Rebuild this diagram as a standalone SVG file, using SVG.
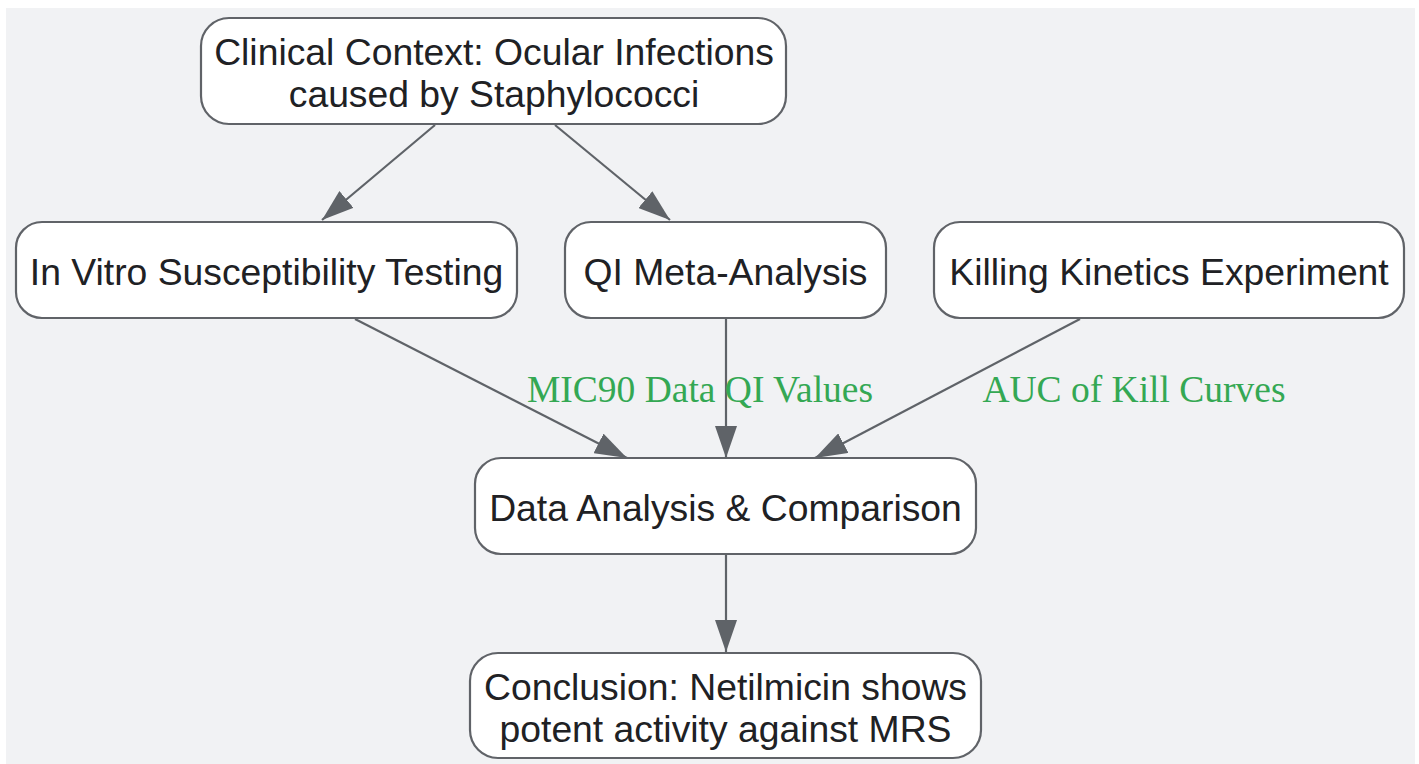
<svg xmlns="http://www.w3.org/2000/svg" width="1419" height="764" viewBox="0 0 1419 764">
<style>
.node rect{fill:#ffffff;stroke:#606368;stroke-width:2.2}
.node text{font-family:"Liberation Sans",Arial,sans-serif;font-size:37.3px;fill:#202124;text-anchor:middle}
.edge{stroke:#5f6368;stroke-width:2.2;fill:none;marker-end:url(#arr)}
.lbl{font-family:"Liberation Serif","Times New Roman",serif;font-size:37.5px;fill:#34a853;text-anchor:middle}
</style>
<defs>
<marker id="arr" viewBox="0 0 32 22" refX="32" refY="11" markerWidth="32" markerHeight="22" markerUnits="userSpaceOnUse" orient="auto">
<path d="M0,0 L32,11 L0,22 z" fill="#5f6368"/>
</marker>
</defs>
<rect x="6" y="8" width="1409" height="760" fill="#f1f2f4"/>
<g id="connectors">
<line class="edge" x1="435" y1="125" x2="322" y2="220"/>
<line class="edge" x1="555" y1="125" x2="670" y2="220"/>
<line class="edge" x1="355" y1="319" x2="627" y2="458"/>
<line class="edge" x1="726" y1="319" x2="726" y2="458"/>
<line class="edge" x1="1080" y1="319" x2="815" y2="458"/>
<line class="edge" x1="726" y1="555" x2="726" y2="652"/>
<text class="lbl" x="700" y="402">MIC90 Data QI Values</text>
<text class="lbl" x="1134" y="402">AUC of Kill Curves</text>
</g>
<g id="n1" class="node">
<rect x="201" y="18" width="585" height="106" rx="28"/>
<text x="494" y="65">Clinical Context: Ocular Infections</text>
<text x="494" y="107">caused by Staphylococci</text>
</g>
<g id="n2" class="node">
<rect x="16" y="222" width="501" height="96" rx="26"/>
<text x="266.5" y="285">In Vitro Susceptibility Testing</text>
</g>
<g id="n3" class="node">
<rect x="565" y="222" width="321" height="96" rx="26"/>
<text x="725.5" y="285">QI Meta-Analysis</text>
</g>
<g id="n4" class="node">
<rect x="934" y="222" width="470" height="96" rx="26"/>
<text x="1169" y="285">Killing Kinetics Experiment</text>
</g>
<g id="n5" class="node">
<rect x="475" y="458" width="501" height="96" rx="26"/>
<text x="725.5" y="521">Data Analysis &amp; Comparison</text>
</g>
<g id="n6" class="node">
<rect x="470" y="653" width="511" height="105" rx="28"/>
<text x="725.5" y="700">Conclusion: Netilmicin shows</text>
<text x="725.5" y="742">potent activity against MRS</text>
</g>
</svg>
